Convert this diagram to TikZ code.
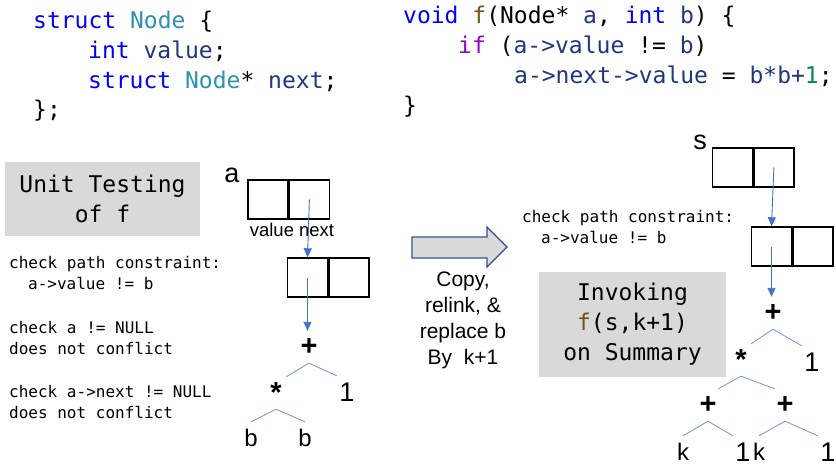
\documentclass[tikz,border=0pt]{standalone}
\usepackage{fontspec}
\setmainfont{Liberation Sans}
\setmonofont{DejaVu Sans Mono}
\usepackage{tikz}
\usetikzlibrary{positioning,arrows.meta}
\definecolor{CodeKey}{HTML}{0000FF}
\definecolor{CodeType}{HTML}{2B91AF}
\definecolor{CodeVar}{HTML}{1F377F}
\definecolor{CodeFun}{HTML}{74531F}
\definecolor{CodeCtl}{HTML}{8F08C4}
\definecolor{CodeNum}{HTML}{098658}
\definecolor{PtrBlue}{HTML}{4472C4}
\definecolor{TreeBlue}{HTML}{7F9ED6}
\definecolor{BoxGray}{HTML}{D9D9D9}
\definecolor{ArrowRim}{HTML}{2F528F}
\newcommand{\kw}[1]{\textcolor{CodeKey}{#1}}
\newcommand{\ty}[1]{\textcolor{CodeType}{#1}}
\newcommand{\vr}[1]{\textcolor{CodeVar}{#1}}
\newcommand{\fn}[1]{\textcolor{CodeFun}{#1}}
\newcommand{\ctl}[1]{\textcolor{CodeCtl}{#1}}
\newcommand{\num}[1]{\textcolor{CodeNum}{#1}}

\begin{document}
\begin{tikzpicture}[x=1pt, y=-1pt,
  code/.style={anchor=base west, inner sep=0pt, font=\fontsize{23}{29}\ttfamily},
  note/.style={anchor=base west, inner sep=0pt, font=\fontsize{16}{21}\ttfamily},
  graybox/.style={fill=BoxGray, align=center, inner sep=0pt, font=\fontsize{23}{30}\ttfamily},
  cell/.style={draw, line width=1.4pt, minimum width=40pt, minimum height=39pt, inner sep=0pt},
  ptr/.style={-{Triangle[length=9pt,width=8pt]}, PtrBlue, line width=0.9pt},
  tnode/.style={inner sep=0pt, minimum width=20pt, minimum height=32pt, font=\fontsize{24}{24}\selectfont},
  top/.style={tnode, font=\fontsize{29}{29}\bfseries},
  tone/.style={tnode, font=\fontsize{27}{27}\selectfont},
  treeline/.style={TreeBlue, line width=0.9pt},
  varname/.style={inner sep=0pt, font=\fontsize{27}{27}\selectfont},
  bigarrow/.style={draw=ArrowRim, fill=BoxGray, line width=1.2pt, line join=miter}
]
\useasboundingbox (0,0) rectangle (836,466);

% source code
\node[code] (s1) at (33,28) {\kw{struct} \ty{Node} \{};
\node[code] (s2) at (88,58) {\kw{int} \vr{value};};
\node[code] (s3) at (88,88) {\kw{struct} \ty{Node}* \vr{next};};
\node[code] (s4) at (33,117) {\};};

\node[code] (f1) at (403,23) {\kw{void} \fn{f}(Node* \vr{a}, \kw{int} \vr{b}) \{};
\node[code] (f2) at (458,53) {\ctl{if} (\vr{a->value} != \vr{b})};
\node[code] (f3) at (514,83) {\vr{a->next->value} = \vr{b*b+}\num{1};};
\node[code] (f4) at (403,113) {\}};

% unit test side
\node[graybox, minimum width=195pt, minimum height=74pt] (unit) at (102.5,199) {Unit Testing\\of f};
\node[note] (c1) at (9,268) {check path constraint:};
\node[note] (c2) at (28,289) {a->value != b};
\node[note] (c3) at (9,333) {check a != NULL};
\node[note] (c4) at (9,354) {does not conflict};
\node[note] (c5) at (9,397) {check a->next != NULL};
\node[note] (c6) at (9,418) {does not conflict};

\node[cell] (aval) at (268,199.5) {};
\node[cell, right=0pt of aval] (anext) {};
\node[varname] (alab) at (232,175) {a};
\node[anchor=base, inner sep=0pt, font=\fontsize{18.5}{18}\selectfont] (fields) at (292,236) {value next};
\node[cell] (bval) at (307.5,277.5) {};
\node[cell, right=0pt of bval] (bnext) {};

\node[top] (plusA) at (309,347) {+};
\node[top] (starA) at (276,393) {*};
\node[tone] (oneA) at (347,392) {1};
\node[tnode] (bA) at (251,438) {b};
\node[tnode] (bB) at (305,438) {b};

\draw[ptr] (anext.center) -- (bval.north);
\draw[ptr] (bval.center) -- (bval.center |- plusA.north);
\draw[treeline] (plusA.south) -- (starA.north east);
\draw[treeline] (plusA.south) -- (oneA.north west);
\draw[treeline] (starA.south) -- (bA.north);
\draw[treeline] (starA.south) -- (bB.north);

% copy step
\draw[bigarrow] (412,237) -- (487,237) -- (487,227) -- (507,247) -- (487,267) -- (487,258) -- (412,258) -- cycle;
\node[align=center, inner sep=0pt, font=\fontsize{21}{26}\selectfont] (copy) at (463,320.5) {Copy,\\relink, \&\\replace b\\By~ k+1};

% summary side
\node[note] (r1) at (522,222) {check path constraint:};
\node[note] (r2) at (541,243) {a->value != b};
\node[graybox, minimum width=187pt, minimum height=105pt] (invoke) at (632.5,324.5) {Invoking\\\fn{f}(s,k+1)\\on Summary};

\node[cell] (sval) at (732.5,167.5) {};
\node[cell, right=0pt of sval] (snext) {};
\node[varname] (slab) at (700,142) {s};
\node[cell] (tval) at (771.5,246.5) {};
\node[cell, right=0pt of tval] (tnext) {};

\node[top] (plusR) at (773,313) {+};
\node[top] (starR) at (741,360) {*};
\node[tone] (oneR) at (812,362) {1};
\node[top] (plusL) at (708,405) {+};
\node[top] (plusM) at (785,405) {+};
\node[tnode] (kA) at (683,452) {k};
\node[tone] (oneB) at (743,452) {1};
\node[tnode] (kB) at (759,452) {k};
\node[tone] (oneC) at (828,452) {1};

\draw[ptr] (snext.center) -- (tval.north);
\draw[ptr] (tval.center) -- (tval.center |- plusR.north);
\draw[treeline] (plusR.south) -- (starR.north east);
\draw[treeline] (plusR.south) -- (oneR.north west);
\draw[treeline] (starR.south) -- (plusL.north east);
\draw[treeline] (starR.south) -- (plusM.north west);
\draw[treeline] (plusL.south) -- (kA.north);
\draw[treeline] (plusL.south) -- (oneB.north west);
\draw[treeline] (plusM.south) -- (kB.north);
\draw[treeline] (plusM.south) -- (oneC.north west);
\end{tikzpicture}
\end{document}
